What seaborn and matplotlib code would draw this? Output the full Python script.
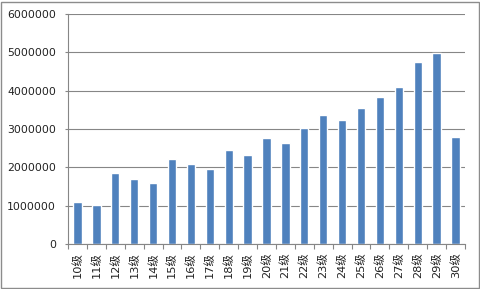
import matplotlib
matplotlib.use("Agg")
import matplotlib.pyplot as plt
import seaborn as sns
import pandas as pd
from matplotlib.patches import Rectangle
from matplotlib.ticker import FixedLocator

levels = [f"{i}级" for i in range(10, 31)]
values = [1100000, 1010000, 1850000, 1700000, 1600000, 2220000, 2090000, 1950000,
          2450000, 2320000, 2765000, 2635000, 3030000, 3365000, 3235000, 3550000,
          3835000, 4100000, 4750000, 4990000, 2790000]
yticks = [0, 1000000, 2000000, 3000000, 4000000, 5000000, 6000000]

sns.set_theme(style="white")
plt.rcParams['font.family'] = ['DejaVu Sans', 'Noto Sans CJK SC']

df = pd.DataFrame({"level": levels, "value": values})

fig = plt.figure(figsize=(4.81, 2.89), dpi=100)
ax = fig.add_axes([68/481, 1-244/289, (465-68)/481, (244-14)/289])

sns.barplot(data=df, x="level", y="value", color="#4F81BD", saturation=1,
            width=0.44, ax=ax)

grid_c = "#868686"
ax.set_xlim(-0.5, len(levels)-0.5)
ax.set_ylim(0, 6000000)
ax.set_yticks(yticks)
ax.set_yticklabels([str(v) for v in yticks], fontsize=7.8, color="#222222")
ax.yaxis.grid(True, color=grid_c, lw=0.8)
ax.set_axisbelow(True)
ax.set_xlabel("")
ax.set_ylabel("")
ax.set_xticks(range(len(levels)))
ax.set_xticklabels(levels, rotation=90, fontsize=8.2, color="#222222")
ax.xaxis.set_minor_locator(FixedLocator([i-0.5 for i in range(len(levels)+1)]))
ax.tick_params(axis="x", which="major", length=0, pad=6)
ax.tick_params(axis="x", which="minor", length=3.5, width=0.8, color=grid_c, direction="out", bottom=True)
ax.tick_params(axis="y", which="major", length=2.2, width=0.8, color=grid_c, pad=6.5, left=True)

for s in ["top", "right"]:
    ax.spines[s].set_visible(False)
for s in ["left", "bottom"]:
    ax.spines[s].set_color(grid_c)
    ax.spines[s].set_linewidth(0.8)

fig.patches.append(Rectangle((0.002, 0.004), 0.994, 0.99, transform=fig.transFigure,
                             fill=False, edgecolor="#8c8c8c", lw=1.0))

fig.savefig("out.png", dpi=100)
